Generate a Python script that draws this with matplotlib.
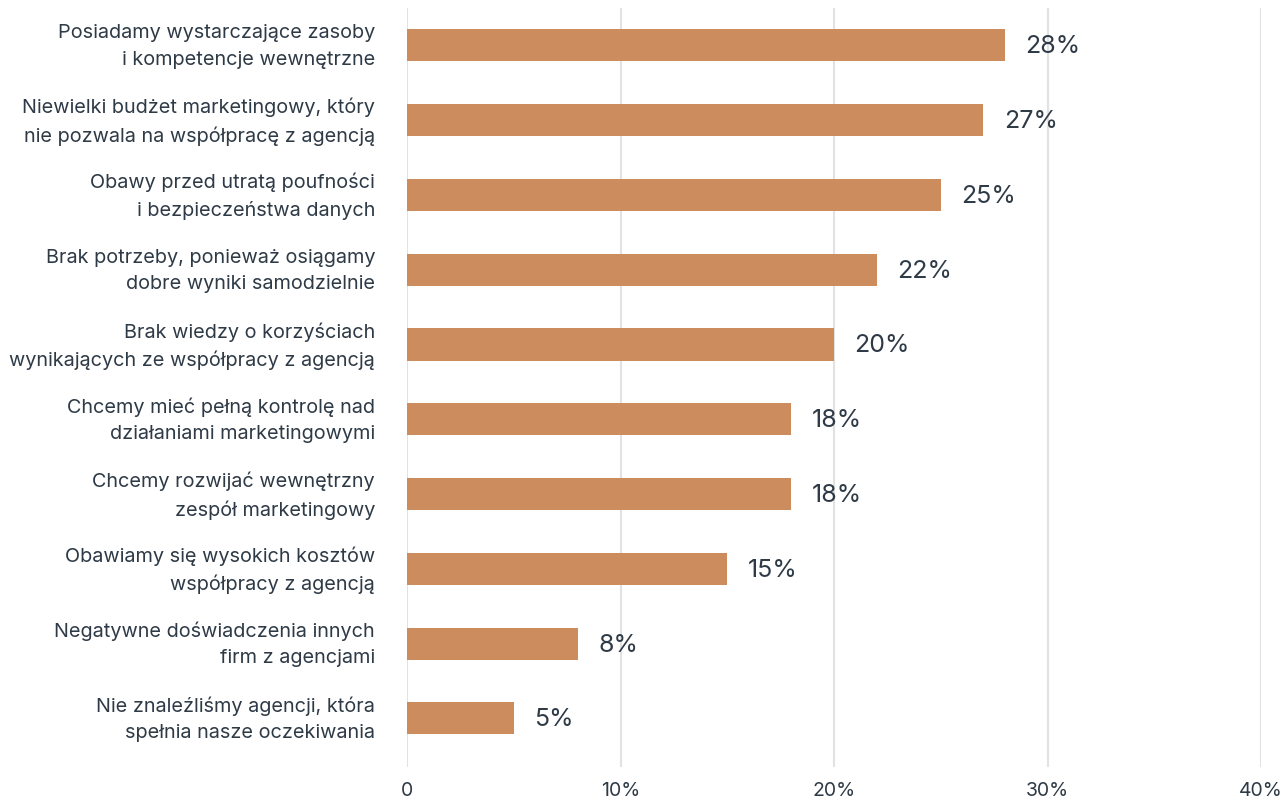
import matplotlib.pyplot as plt
from matplotlib.transforms import ScaledTranslation

reasons = [
    "Posiadamy wystarczające zasoby\ni kompetencje wewnętrzne",
    "Niewielki budżet marketingowy, który\nnie pozwala na współpracę z agencją",
    "Obawy przed utratą poufności\ni bezpieczeństwa danych",
    "Brak potrzeby, ponieważ osiągamy\ndobre wyniki samodzielnie",
    "Brak wiedzy o korzyściach\nwynikających ze współpracy z agencją",
    "Chcemy mieć pełną kontrolę nad\ndziałaniami marketingowymi",
    "Chcemy rozwijać wewnętrzny\nzespół marketingowy",
    "Obawiamy się wysokich kosztów\nwspółpracy z agencją",
    "Negatywne doświadczenia innych\nfirm z agencjami",
    "Nie znaleźliśmy agencji, która\nspełnia nasze oczekiwania",
]
shares = [28, 27, 25, 22, 20, 18, 18, 15, 8, 5]
x_ticks = [0, 10, 20, 30, 40]
x_tick_labels = ["0", "10%", "20%", "30%", "40%"]

bar_color = "#CD8C5E"
text_color = "#2E3A46"
grid_color = "#E2E2E2"

plt.rcParams["font.family"] = ["Inter", "DejaVu Sans"]

W, H = 1283, 798
fig = plt.figure(figsize=(W / 100, H / 100), dpi=100)
ax = fig.add_axes([407 / W, (H - 767) / H, (1261 - 407) / W, (767 - 8) / H])

ypos = list(range(len(reasons)))
ax.barh(ypos, shares, height=0.43, color=bar_color, zorder=2)

for y, v in zip(ypos, shares):
    ax.text(v + 0.95, y + 0.02, f"{v}%", va="center", ha="left",
            fontsize=18, color=text_color)

ax.set_xlim(0, 40)
ax.set_ylim(9.65, -0.5)
ax.set_xticks(x_ticks)
ax.set_xticklabels(x_tick_labels, fontsize=14, color=text_color)
ax.set_yticks(ypos)
ax.set_yticklabels(reasons, fontsize=14.3, color=text_color,
                   linespacing=1.58, ha="right")
ax.tick_params(axis="both", length=0)
ax.tick_params(axis="y", pad=23)
ax.tick_params(axis="x", pad=11)

# nudge the two-line category labels up a little
shift = ScaledTranslation(0, 5 / 100, fig.dpi_scale_trans)
for lbl in ax.get_yticklabels():
    lbl.set_transform(lbl.get_transform() + shift)

ax.grid(axis="x", color=grid_color, linewidth=1.5, zorder=0)
ax.set_axisbelow(True)
for s in ax.spines.values():
    s.set_visible(False)

fig.savefig("out.png", dpi=100)
